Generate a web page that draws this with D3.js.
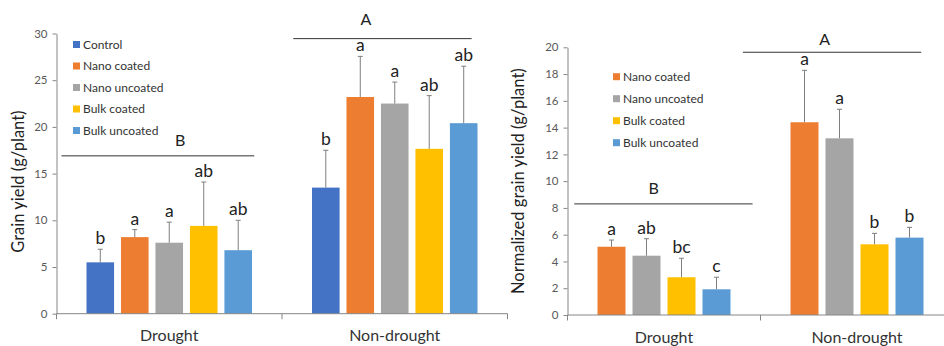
<!DOCTYPE html>
<html>
<head>
<meta charset="utf-8">
<script src="https://cdn.jsdelivr.net/npm/d3@7"></script>
<style>
  body { margin: 0; background: #fff; }
  svg { display: block; font-family: Lato, "Open Sans", sans-serif; }
</style>
</head>
<body>
<svg id="chart" width="944" height="346"></svg>
<script>
// categories and treatments
const conditions = ['Drought', 'Non-drought'];
const treatments = ['Control', 'Nano coated', 'Nano uncoated', 'Bulk coated', 'Bulk uncoated'];
const treatmentColors = ['#4472C4', '#ED7D31', '#A5A5A5', '#FFC000', '#5B9BD5'];

// left panel: grain yield (g/plant)
const yieldDrought = [5.5, 8.2, 7.6, 9.4, 6.8];
const yieldDroughtErr = [1.4, 0.8, 2.2, 4.7, 3.2];
const yieldDroughtLetters = ['b', 'a', 'a', 'ab', 'ab'];
const yieldNonDrought = [13.5, 23.2, 22.5, 17.65, 20.4];
const yieldNonDroughtErr = [4.0, 4.35, 2.3, 5.7, 6.1];
const yieldNonDroughtLetters = ['b', 'a', 'a', 'ab', 'ab'];
const yieldTicks = [0, 5, 10, 15, 20, 25, 30];
const yieldGroupLetters = ['B', 'A'];
const yieldGroupLineLevel = [16.9, 29.45];

// right panel: normalized grain yield (g/plant), no control
const normTreatments = ['Nano coated', 'Nano uncoated', 'Bulk coated', 'Bulk uncoated'];
const normDrought = [5.1, 4.43, 2.82, 1.92];
const normDroughtErr = [0.5, 1.27, 1.42, 0.9];
const normDroughtLetters = ['a', 'ab', 'bc', 'c'];
const normNonDrought = [14.4, 13.2, 5.28, 5.78];
const normNonDroughtErr = [3.88, 2.17, 0.82, 0.77];
const normNonDroughtLetters = ['a', 'a', 'b', 'b'];
const normTicks = [0, 2, 4, 6, 8, 10, 12, 14, 16, 18, 20];
const normGroupLetters = ['B', 'A'];
const normGroupLineLevel = [8.3, 19.63];

const svg = d3.select('#chart');
const colorOf = d3.scaleOrdinal().domain(treatments).range(treatmentColors);

function drawPanel(cfg) {
  const g = svg.append('g');
  const x = d3.scaleBand().domain(conditions).range(cfg.xRange);
  const y = d3.scaleLinear().domain([0, d3.max(cfg.ticks)]).range(cfg.yRange);
  const inner = d3.scaleBand().domain(cfg.series)
    .range([30, x.bandwidth() - 30]).paddingInner(0.2);

  const rows = [];
  conditions.forEach((c, ci) => {
    cfg.series.forEach((s, si) => {
      rows.push({ c, s, v: cfg.values[ci][si], e: cfg.errors[ci][si], l: cfg.letters[ci][si] });
    });
  });

  // y axis
  const yAxis = g.append('g')
    .attr('transform', `translate(${cfg.xRange[0]},0)`)
    .call(d3.axisLeft(y).tickValues(cfg.ticks).tickSize(4).tickSizeOuter(0).tickPadding(5));
  yAxis.select('.domain').attr('stroke', '#868686');
  yAxis.selectAll('.tick line').attr('stroke', '#868686');
  yAxis.selectAll('.tick text').attr('fill', '#595959').style('font-size', '11.5px').style('font-family', 'Lato, sans-serif');

  // bars
  g.selectAll('rect.bar').data(rows).join('rect')
    .attr('class', 'bar')
    .attr('x', d => x(d.c) + inner(d.s))
    .attr('y', d => y(d.v))
    .attr('width', inner.bandwidth())
    .attr('height', d => y(0) - y(d.v))
    .attr('fill', d => colorOf(d.s));

  // error bars (upper only)
  const eb = g.selectAll('g.err').data(rows).join('g').attr('class', 'err')
    .attr('stroke', '#7f7f7f').attr('stroke-width', 1);
  eb.append('line')
    .attr('x1', d => x(d.c) + inner(d.s) + inner.bandwidth() / 2)
    .attr('x2', d => x(d.c) + inner(d.s) + inner.bandwidth() / 2)
    .attr('y1', d => y(d.v))
    .attr('y2', d => y(d.v + d.e));
  eb.append('line')
    .attr('x1', d => x(d.c) + inner(d.s) + inner.bandwidth() / 2 - 2.5)
    .attr('x2', d => x(d.c) + inner(d.s) + inner.bandwidth() / 2 + 2.5)
    .attr('y1', d => y(d.v + d.e))
    .attr('y2', d => y(d.v + d.e));

  // significance letters
  g.selectAll('text.sig').data(rows).join('text')
    .attr('class', 'sig')
    .attr('x', d => x(d.c) + inner(d.s) + inner.bandwidth() / 2)
    .attr('y', d => y(d.v + d.e) - 5)
    .attr('text-anchor', 'middle')
    .attr('fill', '#222')
    .style('font-size', '17.5px')
    .text(d => d.l);

  // x axis line + category boundary ticks
  const y0 = y(0);
  g.append('line')
    .attr('x1', cfg.xRange[0]).attr('x2', cfg.xRange[1])
    .attr('y1', y0).attr('y2', y0)
    .attr('stroke', '#868686');
  const bounds = conditions.map(c => x(c)).concat([x(conditions[1]) + x.bandwidth()]);
  g.selectAll('line.ctick').data(bounds).join('line')
    .attr('class', 'ctick')
    .attr('x1', d => d).attr('x2', d => d)
    .attr('y1', y0).attr('y2', y0 + 5.5)
    .attr('stroke', '#868686');
  g.selectAll('text.cat').data(conditions).join('text')
    .attr('class', 'cat')
    .attr('x', d => x(d) + x.bandwidth() / 2)
    .attr('y', cfg.catY)
    .attr('text-anchor', 'middle')
    .attr('fill', '#333')
    .style('font-size', '16px')
    .text(d => d);

  // group lines with capital letters
  conditions.forEach((c, ci) => {
    const ext = cfg.groupExtent[ci];
    const ly = y(cfg.groupLevel[ci]);
    g.append('line')
      .attr('x1', x(c) + ext[0] * x.bandwidth())
      .attr('x2', x(c) + ext[1] * x.bandwidth())
      .attr('y1', ly).attr('y2', ly)
      .attr('stroke', '#333').attr('stroke-width', 1);
    g.append('text')
      .attr('x', x(c) + ext[2] * x.bandwidth())
      .attr('y', ly - ext[3])
      .attr('text-anchor', 'middle')
      .attr('fill', '#222')
      .style('font-size', '16px')
      .text(cfg.groupLetters[ci]);
  });

  // y title
  g.append('text')
    .attr('transform', `translate(${cfg.titleX},${(cfg.yRange[0] + cfg.yRange[1]) / 2 + cfg.titleDy}) rotate(-90)`)
    .attr('text-anchor', 'middle')
    .attr('fill', '#222')
    .style('font-size', '16.5px')
    .text(cfg.title);

  // legend
  const lg = g.selectAll('g.leg').data(cfg.series).join('g')
    .attr('class', 'leg')
    .attr('transform', (d, i) => `translate(${cfg.legend[0]},${cfg.legend[1] + i * cfg.legend[2]})`);
  lg.append('rect').attr('x', 0).attr('y', -3.5).attr('width', 7).attr('height', 7)
    .attr('fill', d => colorOf(d));
  lg.append('text').attr('x', 10).attr('y', 4)
    .attr('fill', '#333')
    .style('font-size', '12px')
    .text(d => d);
}

drawPanel({
  series: treatments,
  values: [yieldDrought, yieldNonDrought],
  errors: [yieldDroughtErr, yieldNonDroughtErr],
  letters: [yieldDroughtLetters, yieldNonDroughtLetters],
  ticks: yieldTicks,
  groupLetters: yieldGroupLetters,
  groupLevel: yieldGroupLineLevel,
  groupExtent: [[0.022, 0.877, 0.549, 9.5], [0.05, 0.841, 0.3725, 13.5]],
  xRange: [56.5, 507.5],
  yRange: [313.7, 33.5],
  catY: 341,
  title: 'Grain yield (g/plant)',
  titleX: 24,
  titleDy: 8,
  legend: [73, 44.5, 21.5]
});

drawPanel({
  series: normTreatments,
  values: [normDrought, normNonDrought],
  errors: [normDroughtErr, normNonDroughtErr],
  letters: [normDroughtLetters, normNonDroughtLetters],
  ticks: normTicks,
  groupLetters: normGroupLetters,
  groupLevel: normGroupLineLevel,
  groupExtent: [[0.035, 0.959, 0.446, 10], [-0.091, 0.833, 0.332, 7.5]],
  xRange: [567.5, 953.5],
  yRange: [315, 47.3],
  catY: 343,
  title: 'Normalized grain yield (g/plant)',
  titleX: 524,
  titleDy: 0,
  legend: [613, 76.7, 22]
});
</script>
</body>
</html>
